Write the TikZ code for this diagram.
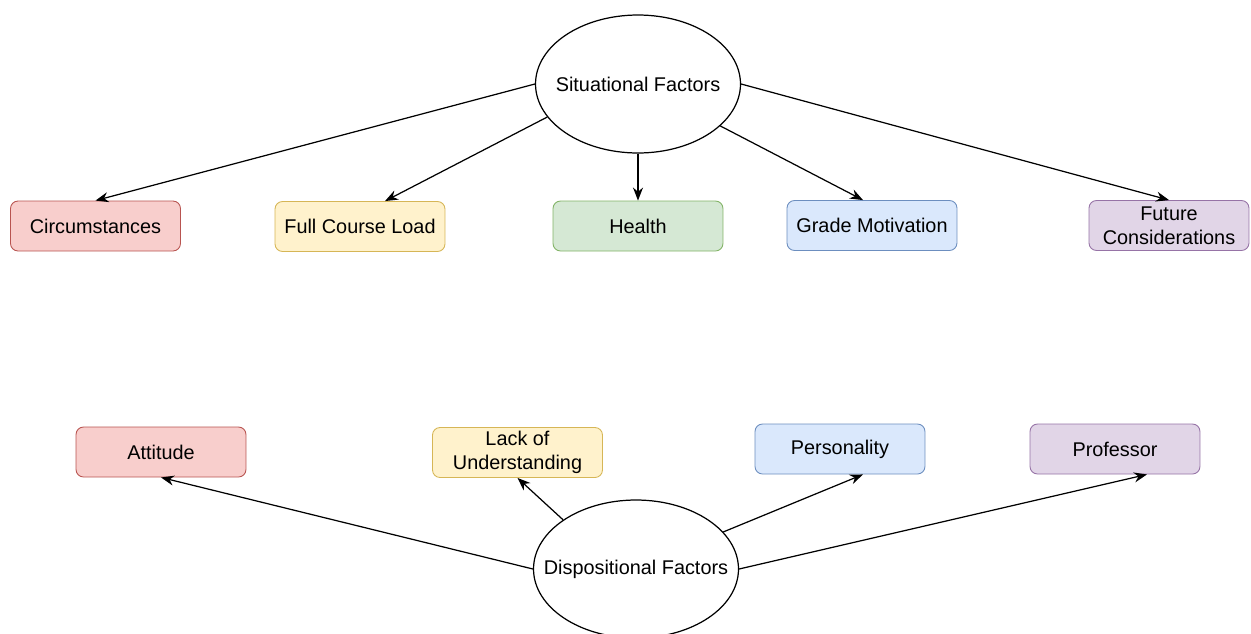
\documentclass[tikz,border=0pt]{standalone}
\usepackage{fontspec}
\setmainfont{Liberation Sans}
\usepackage{xcolor}
\usetikzlibrary{shapes.geometric,arrows.meta}
\definecolor{redfill}{HTML}{F8CECC}\definecolor{redline}{HTML}{B85450}
\definecolor{yelfill}{HTML}{FFF2CC}\definecolor{yelline}{HTML}{D6B656}
\definecolor{grnfill}{HTML}{D5E8D4}\definecolor{grnline}{HTML}{82B366}
\definecolor{blufill}{HTML}{DAE8FC}\definecolor{bluline}{HTML}{6C8EBF}
\definecolor{purfill}{HTML}{E1D5E7}\definecolor{purline}{HTML}{9673A6}
\tikzset{factor/.style={ellipse, draw=black, line width=0.7pt, fill=white, minimum width=4.1cm, minimum height=2.76cm, inner sep=0pt, label=center:#1},
item/.style={draw, rounded corners=0.15cm, minimum width=3.4cm, minimum height=1cm, align=center, inner sep=1pt, line width=0.5pt},
%fill and border colour of a box in one go
tone/.style 2 args={fill=#1, draw=#2},
link/.style={-{Stealth[length=0.26cm,width=0.2cm]}, line width=0.7pt}}

\begin{document}
\begin{tikzpicture}[x=0.02cm, y=-0.02cm, font=\fontsize{11.3}{13.6}\selectfont]
\useasboundingbox (0,0) rectangle (1251,633);
%\draw[step=1cm,color=gray] (0,0) grid (1251,633);
\node[factor={Situational Factors}] (sit) at (638,84) {};
\node[item, tone={redfill}{redline}] (circ) at (95.5,226) {Circumstances};
\node[item, tone={yelfill}{yelline}] (fcl) at (360,226.5) {Full Course Load};
\node[item, tone={grnfill}{grnline}] (health) at (638,226) {Health};
\node[item, tone={blufill}{bluline}] (grade) at (872,225.5) {Grade Motivation};
\node[item, tone={purfill}{purline}, minimum width=3.2cm] (fut) at (1169,225.5) {Future\\Considerations};
\draw[link] (sit.west) -- (circ.north);
\draw[link] (sit.200) -- ([xshift=0.5cm]fcl.north);
\draw[link] (sit.south) -- (health.north);
\draw[link] (sit.333) -- ([xshift=-0.18cm]grade.north);
\draw[link] (sit.east) -- (fut.north);

\node[factor={Dispositional Factors}] (disp) at (636,569) {};
\node[item, tone={redfill}{redline}] (att) at (161,452) {Attitude};
\node[item, tone={yelfill}{yelline}] (lack) at (517.5,452.5) {Lack of\\Understanding};
\node[item, tone={blufill}{bluline}] (pers) at (840,449) {Personality};
\node[item, tone={purfill}{purline}] (prof) at (1115,449) {Professor};
\draw[link] (disp.west) -- (att.south);
\draw[link] (disp.146) -- (lack.south);
\draw[link] (disp.23) -- ([xshift=0.46cm]pers.south);
\draw[link] (disp.east) -- ([xshift=0.64cm]prof.south);
\end{tikzpicture}
\end{document}
